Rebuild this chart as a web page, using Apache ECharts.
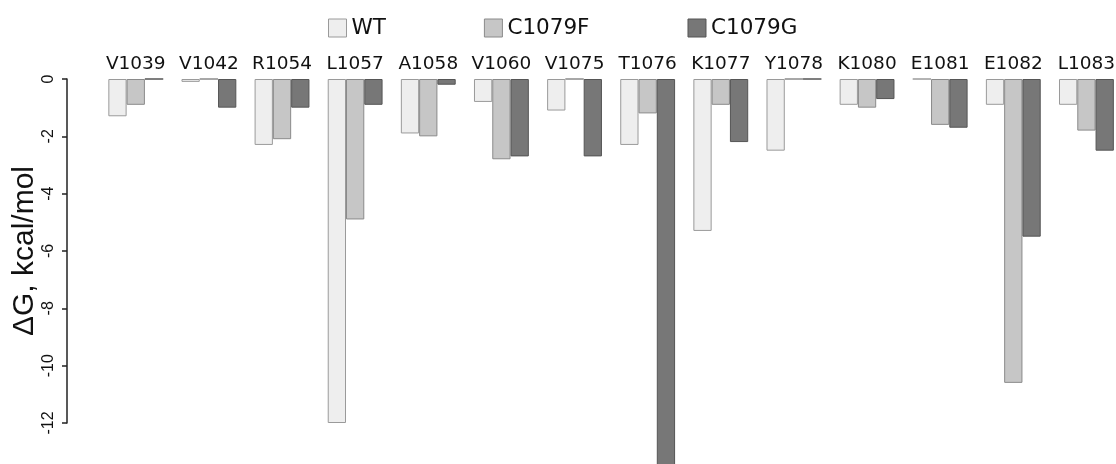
<!DOCTYPE html>
<html>
<head>
<meta charset="utf-8">
<title>ΔG per residue</title>
<script src="https://cdn.jsdelivr.net/npm/echarts@6/dist/echarts.min.js"></script>
<style>
  html, body { margin: 0; padding: 0; background: #ffffff; }
  #chart { width: 1116px; height: 464px; }
</style>
</head>
<body>
<div id="chart"></div>
<script>
// Residues along the category axis
const categories = ['V1039', 'V1042', 'R1054', 'L1057', 'A1058', 'V1060', 'V1075',
                    'T1076', 'K1077', 'Y1078', 'K1080', 'E1081', 'E1082', 'L1083'];

// Per-residue free energy contribution, kcal/mol
const wtValues     = [-1.3, -0.1, -2.3, -12.0, -1.9, -0.8, -1.1, -2.3, -5.3, -2.5, -0.9,  0.0, -0.9, -0.9];
const c1079fValues = [-0.9,  0.0, -2.1,  -4.9, -2.0, -2.8,  0.0, -1.2, -0.9,  0.0, -1.0, -1.6, -10.6, -1.8];
const c1079gValues = [ 0.0, -1.0, -1.0,  -0.9, -0.2, -2.7, -2.7, -14.0, -2.2, 0.0, -0.7, -1.7, -5.5, -2.5];

// Visible scale: 0 down to -12 in steps of 2
const axisMin = -12;
const axisMax = 0;
const axisStep = 2;
// The bars run on past the drawn scale, down to this value
const barFloor = -14;

const axisTop = 79;
const axisHeight = 344;
const barHeight = axisHeight * (barFloor - axisMax) / (axisMin - axisMax);

const chart = echarts.init(document.getElementById('chart'), null, { renderer: 'canvas' });

function barSeries(name, values, fill, stroke) {
  return {
    name: name,
    type: 'bar',
    xAxisIndex: 0,
    yAxisIndex: 0,
    data: values,
    barGap: '0%',
    barCategoryGap: '25%',
    itemStyle: { color: fill, borderColor: stroke, borderWidth: 1 },
    emphasis: { disabled: true }
  };
}

chart.setOption({
  animation: false,
  backgroundColor: '#ffffff',
  textStyle: { fontFamily: 'DejaVu Sans' },
  legend: {
    data: ['WT', 'C1079F', 'C1079G'],
    left: 323,
    top: 12,
    icon: 'rect',
    itemWidth: 18,
    itemHeight: 18,
    itemGap: 98,
    itemStyle: { borderWidth: 1 },
    textStyle: { fontFamily: 'DejaVu Sans', fontSize: 21.5, color: '#111111' },
    selectedMode: false
  },
  grid: [
    { left: 99.2, right: -7, top: axisTop, height: barHeight, outerBoundsMode: 'none' },
    { left: 67, width: 1, top: axisTop, height: axisHeight, outerBoundsMode: 'none' }
  ],
  xAxis: [
    {
      gridIndex: 0,
      type: 'category',
      data: categories,
      position: 'top',
      axisLine: { show: false },
      axisTick: { show: false },
      axisLabel: {
        interval: 0,
        margin: 5,
        fontFamily: 'DejaVu Sans',
        fontSize: 18.5,
        color: '#111111'
      }
    },
    { gridIndex: 1, type: 'value', show: false }
  ],
  yAxis: [
    { gridIndex: 0, type: 'value', min: barFloor, max: axisMax, show: false },
    {
      gridIndex: 1,
      type: 'value',
      min: axisMin,
      max: axisMax,
      interval: axisStep,
      name: 'ΔG, kcal/mol',
      nameLocation: 'middle',
      nameGap: 19,
      nameTextStyle: { fontFamily: 'Liberation Sans', fontSize: 30, color: '#111111' },
      axisLine: { show: true, lineStyle: { color: '#222222', width: 1.5 } },
      axisTick: { show: true, length: 5, lineStyle: { color: '#222222', width: 1.5 } },
      axisLabel: {
        rotate: 90,
        margin: 10,
        fontFamily: 'Liberation Sans',
        fontSize: 16,
        color: '#111111'
      },
      splitLine: { show: false }
    }
  ],
  series: [
    barSeries('WT', wtValues, '#eeeeee', '#9a9a9a'),
    barSeries('C1079F', c1079fValues, '#c6c6c6', '#8a8a8a'),
    barSeries('C1079G', c1079gValues, '#777777', '#555555')
  ]
});
</script>
</body>
</html>
